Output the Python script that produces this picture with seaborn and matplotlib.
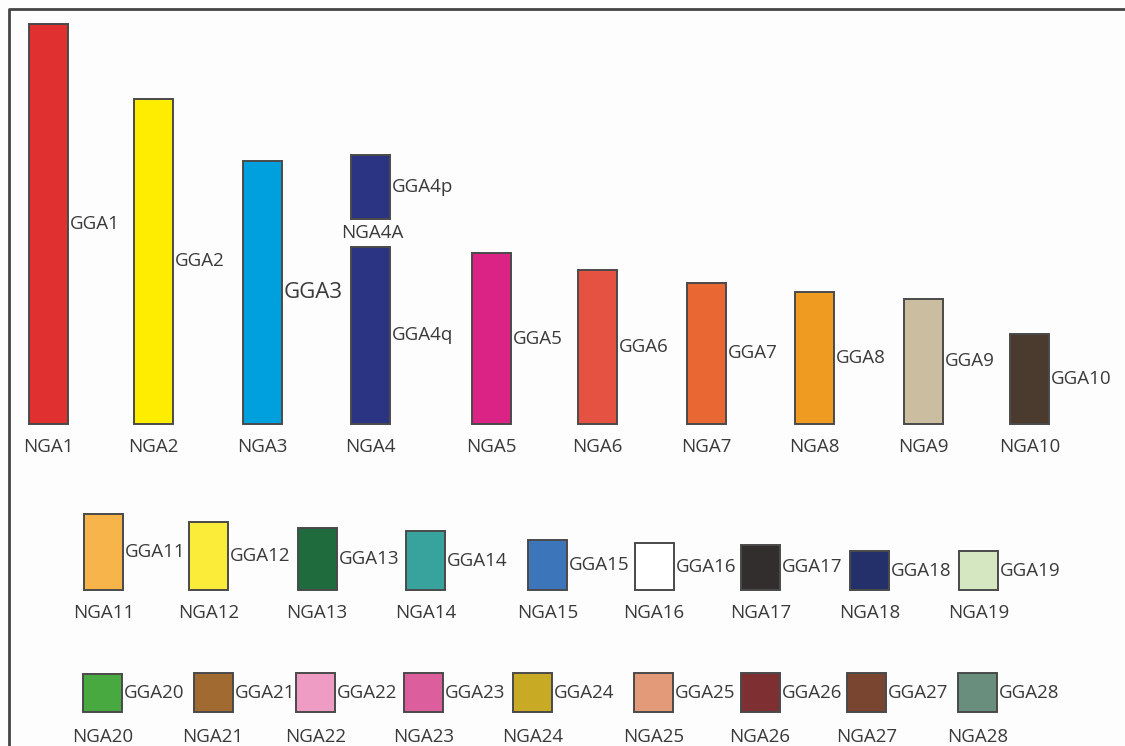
import matplotlib.pyplot as plt
import numpy as np
import pandas as pd
import seaborn as sns

# chromosome lengths (NGA), with matching GGA labels
row1_nga = ["NGA1", "NGA2", "NGA3", "NGA4", "NGA5", "NGA6", "NGA7", "NGA8", "NGA9", "NGA10"]
row1_gga = ["GGA1", "GGA2", "GGA3", "GGA4q", "GGA5", "GGA6", "GGA7", "GGA8", "GGA9", "GGA10"]
row1_len = [400, 325, 263, 177, 171, 154, 141, 132, 125, 90]
row1_col = ["#e0302f", "#ffed00", "#00a0de", "#2b3483", "#db2385",
            "#e55242", "#e86733", "#ef9b21", "#cbbea0", "#4a3b2e"]

arm_p_name = "NGA4A"
arm_p_gga = "GGA4p"
arm_p_len = 64

row2_nga = ["NGA11", "NGA12", "NGA13", "NGA14", "NGA15", "NGA16", "NGA17", "NGA18", "NGA19"]
row2_gga = ["GGA11", "GGA12", "GGA13", "GGA14", "GGA15", "GGA16", "GGA17", "GGA18", "GGA19"]
row2_len = [76, 68, 62, 59, 50, 47, 45, 39, 39]
row2_col = ["#f6b44a", "#fcec3a", "#206b3e", "#37a39c", "#3c75ba",
            "#ffffff", "#332e2e", "#23306a", "#d4e7c0"]

row3_nga = ["NGA20", "NGA21", "NGA22", "NGA23", "NGA24", "NGA25", "NGA26", "NGA27", "NGA28"]
row3_gga = ["GGA20", "GGA21", "GGA22", "GGA23", "GGA24", "GGA25", "GGA26", "GGA27", "GGA28"]
row3_len = [38, 39, 39, 39, 39, 39, 39, 39, 39]
row3_col = ["#47a93f", "#a06a30", "#ee9cc4", "#dc5e9c", "#c9aa25",
            "#e39a78", "#7d2f31", "#794530", "#6a8e7e"]

# layout (figure pixel units, y pointing up)
row1_x = [48.5, 153.5, 262, 370.5, 491, 597.5, 706.5, 814.5, 923.5, 1029.5]
row2_x = [103.5, 208.5, 317, 425.5, 547.5, 654, 760.5, 869.5, 978.5]
row3_x = [102.5, 213, 315.5, 423.5, 532.5, 653.5, 760, 866.5, 977.5]
BAR_W = 39
EDGE = "#4a4a4a"
TXT = "#3a3a3a"
FS = 13.5

sns.set_theme(style="white")
plt.rcParams["font.family"] = ["Open Sans", "DejaVu Sans"]

fig = plt.figure(figsize=(11.25, 7.46), dpi=100)
fig.patch.set_facecolor("#fdfdfd")
ax = fig.add_axes([0, 0, 1, 1])
ax.set_facecolor("#fdfdfd")


def draw_row(names, ggas, lengths, colors, xs, base, label_y):
    df = pd.DataFrame({"x": xs, "len": lengths, "name": names})
    width = BAR_W / np.min(np.diff(xs))
    sns.barplot(data=df, x="x", y="len", hue="name", palette=dict(zip(names, colors)),
                native_scale=True, width=width, dodge=False, saturation=1,
                errorbar=None, legend=False, bottom=base,
                edgecolor=EDGE, linewidth=1.4, ax=ax)
    for x, n, g, h in zip(xs, names, ggas, lengths):
        ax.text(x, label_y, n, ha="center", va="center", fontsize=FS, color=TXT)
        size = 16 if g == "GGA3" else FS
        ax.text(x + BAR_W / 2 + 2, base + h / 2, g, ha="left", va="center",
                fontsize=size, color=TXT)


draw_row(row1_nga, row1_gga, row1_len, row1_col, row1_x, 322, 299)
draw_row(row2_nga, row2_gga, row2_len, row2_col, row2_x, 156, 133)
draw_row(row3_nga, row3_gga, row3_len, row3_col, row3_x, 34, 9)

# NGA4A: the p arm of GGA4, split off above NGA4
x4 = row1_x[row1_nga.index("NGA4")]
p_base = 322 + row1_len[3] + 28
ax.bar(x4, arm_p_len, bottom=p_base, width=BAR_W, color=row1_col[3],
       edgecolor=EDGE, linewidth=1.4)
ax.text(x4 + 1.5, p_base - 14, arm_p_name, ha="center", va="center", fontsize=FS, color=TXT)
ax.text(x4 + BAR_W / 2 + 2, p_base + arm_p_len / 2, arm_p_gga, ha="left", va="center",
        fontsize=FS, color=TXT)

# open frame: left and top edges only
ax.plot([8.5, 8.5, 1125], [0, 737, 737], color="#444444", lw=2, solid_capstyle="butt")

ax.set_xlim(0, 1125)
ax.set_ylim(0, 746)
ax.axis("off")

fig.savefig("out.png", dpi=100, facecolor=fig.get_facecolor())
